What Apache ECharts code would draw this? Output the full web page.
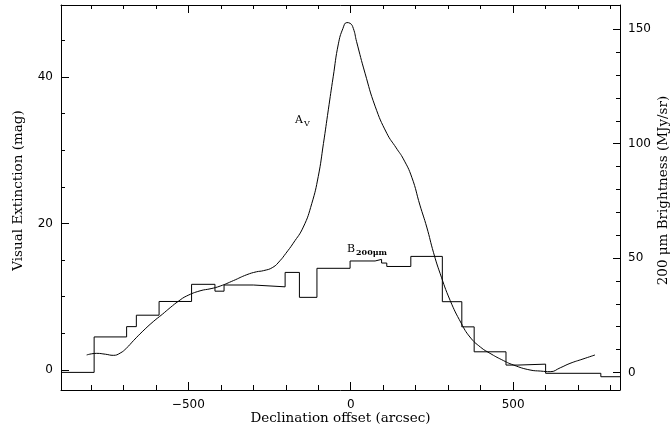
<!DOCTYPE html>
<html>
<head>
<meta charset="utf-8">
<script src="https://cdn.jsdelivr.net/npm/echarts@6/dist/echarts.min.js"></script>
<style>
  html, body { margin: 0; padding: 0; background: #fff; }
  #main { width: 672px; height: 427px; }
</style>
</head>
<body>
<div id="main"></div>
<script>
// visual extinction profile (mag) vs declination offset (arcsec)
const avOffset = [-813, -782, -755, -731, -710, -690, -669, -640, -608, -580, -556, -530, -505, -464, -430, -402, -361, -320, -290, -269,
  -240, -218, -200, -177, -146, -120, -100, -84, -69, -54, -38, -24, -12, -2, 8, 18, 44, 75, 111, 140,
  162, 188, 213, 234, 255, 275, 306, 340, 367, 400, 429, 465, 501, 552, 585, 614, 645, 675, 715, 752];
const avMag = [2.05, 2.27, 2.15, 2.0, 2.3, 3.0, 4.0, 5.3, 6.6, 7.6, 8.5, 9.4, 10.1, 10.8, 11.1, 11.45, 12.2, 13.0, 13.4, 13.55,
  14.0, 14.9, 15.9, 17.3, 19.5, 22.7, 26.4, 30.9, 35.5, 40.0, 44.5, 46.6, 47.4, 47.3, 46.6, 44.8, 40.5, 36.0, 32.3, 30.3,
  28.8, 26.3, 22.5, 19.5, 16.0, 13.2, 9.5, 6.4, 4.5, 3.1, 2.27, 1.4, 0.68, 0.0, -0.15, -0.23, 0.3, 0.9, 1.5, 2.05];

// 200 um brightness (MJy/sr), step starts
const bOffset = [-892, -790, -690, -660, -590, -490, -418, -390, -300, -202, -158, -104, -2, 75, 95, 111, 185, 282, 342, 380, 478, 515, 600, 770, 829];
const bFlux = [0, 15.5, 20, 25, 31, 38.5, 35.5, 38.2, 37.4, 43.7, 32.8, 45.5, 48.7, 49.4, 47.8, 46.3, 50.7, 30.9, 19.9, 9, 3.2, 3.6, -0.4, -1.9, -1.9];

const xMajor = [-500, 0, 500];
const xMinor = [-800, -700, -600, -500, -400, -300, -200, -100, 0, 100, 200, 300, 400, 500, 600, 700, 800];
const leftMajor = [0, 20, 40];
const leftMinor = [0, 5, 10, 15, 20, 25, 30, 35, 40, 45];
const rightMajor = [0, 50, 100, 150];
const rightMinor = [0, 10, 20, 30, 40, 50, 60, 70, 80, 90, 100, 110, 120, 130, 140, 150];

const X_MIN = -892, X_MAX = 829;
const L_MIN = -2.73, L_MAX = 49.8;
const R_MIN = -7.7, R_MAX = 160.6;

const ink = '#000';
const numFont = { color: ink, fontFamily: 'DejaVu Sans', fontSize: 12 };
const nameFont = { color: ink, fontFamily: 'DejaVu Serif', fontSize: 13.5 };
const minus = v => String(v).replace('-', '\u2212');

function tickAxis(extra, ticks, len, showLine) {
  return Object.assign({
    type: 'value',
    axisLine: { show: showLine, onZero: false, lineStyle: { color: ink, width: 1 } },
    axisTick: { show: true, inside: true, length: len, customValues: ticks, lineStyle: { color: ink, width: 1 } },
    axisLabel: { show: false },
    splitLine: { show: false }
  }, extra);
}

const chart = echarts.init(document.getElementById('main'));

const xBase = { min: X_MIN, max: X_MAX, gridIndex: 0 };
const xMain = tickAxis(Object.assign({ position: 'bottom' }, xBase), xMajor, 8, true);
xMain.axisLabel = Object.assign({ show: true, margin: 9, customValues: xMajor, formatter: minus }, numFont);
xMain.name = 'Declination offset (arcsec)';
xMain.nameLocation = 'middle';
xMain.nameGap = 21;
xMain.nameMoveOverlap = false;
xMain.nameTextStyle = nameFont;

const yLeft = tickAxis({ position: 'left', min: L_MIN, max: L_MAX }, leftMajor, 8, true);
yLeft.axisLabel = Object.assign({ show: true, margin: 8, customValues: leftMajor }, numFont);
yLeft.name = 'Visual Extinction (mag)';
yLeft.nameLocation = 'middle';
yLeft.nameGap = 36;
yLeft.nameMoveOverlap = false;
yLeft.nameTextStyle = Object.assign({ padding: [0, 0, 0, 14] }, nameFont);

const yRight = tickAxis({ position: 'right', min: R_MIN, max: R_MAX }, rightMajor, 7, true);
yRight.axisLabel = Object.assign({ show: true, margin: 8, customValues: rightMajor }, numFont);
yRight.name = '200 \u03bcm Brightness (MJy/sr)';
yRight.nameLocation = 'middle';
yRight.nameRotate = 90;
yRight.nameGap = 36;
yRight.nameMoveOverlap = false;
yRight.nameTextStyle = Object.assign({ padding: [0, 0, 0, 14] }, nameFont);

chart.setOption({
  animation: false,
  backgroundColor: '#fff',
  grid: { left: 61, right: 52, top: 5, bottom: 37, containLabel: false, outerBoundsMode: 'none' },
  xAxis: [
    xMain,
    tickAxis(Object.assign({ position: 'bottom' }, xBase), xMinor, 5, false),
    tickAxis(Object.assign({ position: 'top' }, xBase), xMajor, 8, true),
    tickAxis(Object.assign({ position: 'top' }, xBase), xMinor, 4, false)
  ],
  yAxis: [
    yLeft,
    tickAxis({ position: 'left', min: L_MIN, max: L_MAX }, leftMinor, 4, false),
    yRight,
    tickAxis({ position: 'right', min: R_MIN, max: R_MAX }, rightMinor, 4, false)
  ],
  series: [
    {
      name: 'AV',
      type: 'line',
      xAxisIndex: 0,
      yAxisIndex: 0,
      data: avOffset.map((x, i) => [x, avMag[i]]),
      smooth: 0.5,
      showSymbol: false,
      lineStyle: { color: ink, width: 1 }
    },
    {
      name: 'B200',
      type: 'line',
      xAxisIndex: 0,
      yAxisIndex: 2,
      step: 'end',
      data: bOffset.map((x, i) => [x, bFlux[i]]),
      showSymbol: false,
      lineStyle: { color: ink, width: 1 }
    }
  ],
  graphic: [
    { type: 'text', x: 295, y: 115, style: { text: 'A', fill: ink, font: '11px "DejaVu Serif"' } },
    { type: 'text', x: 304, y: 120, style: { text: 'V', fill: ink, font: '8px "DejaVu Serif"' } },
    { type: 'text', x: 347, y: 244, style: { text: 'B', fill: ink, font: '11px "DejaVu Serif"' } },
    { type: 'text', x: 356, y: 249, style: { text: '200\u03bcm', fill: ink, font: 'bold 8px "DejaVu Serif"' } }
  ]
});
</script>
</body>
</html>
